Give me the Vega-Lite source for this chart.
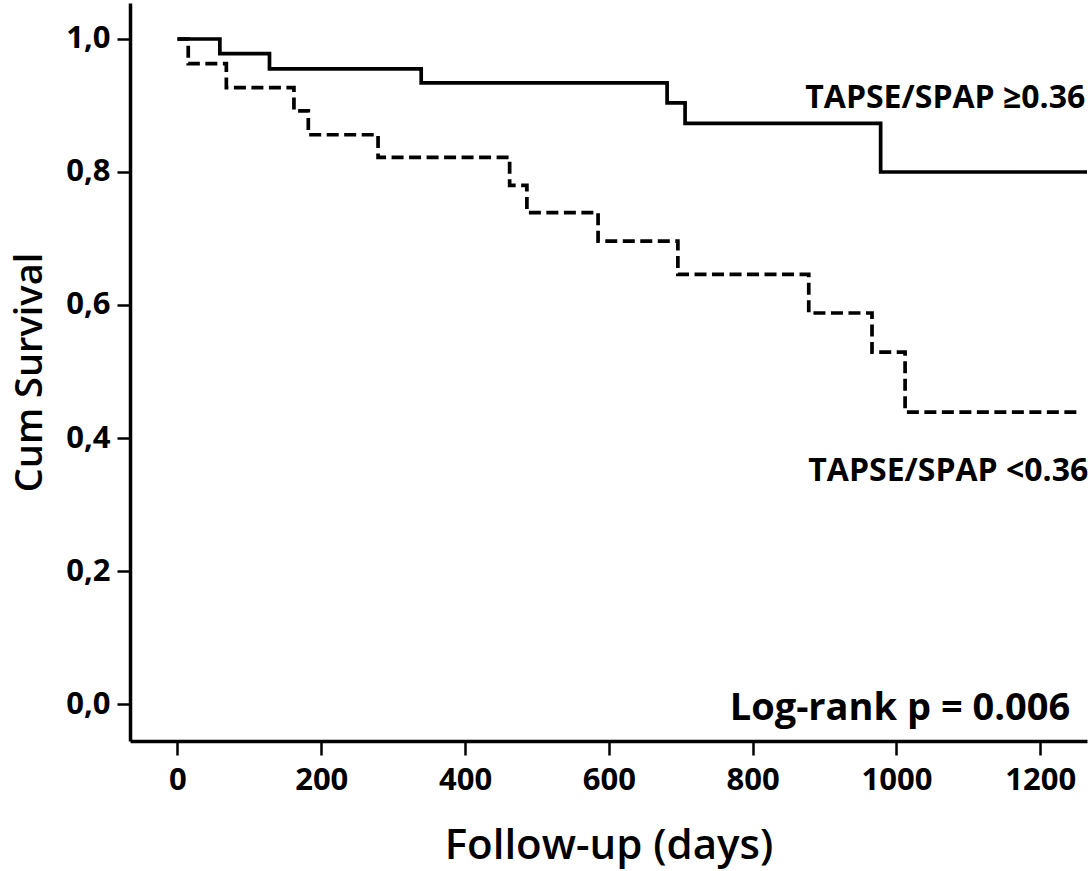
{
  "$schema": "https://vega.github.io/schema/vega-lite/v6.json",
  "width": 957,
  "height": 738,
  "autosize": "none",
  "padding": {"left": 130, "top": 3, "right": 5, "bottom": 130},
  "background": "white",
  "config": {"view": {"stroke": null}, "font": "Open Sans"},
  "datasets": {
    "curves": [
      {"group": "TAPSE/SPAP ≥0.36", "day": 0, "surv": 1.0},
      {"group": "TAPSE/SPAP ≥0.36", "day": 59, "surv": 0.978},
      {"group": "TAPSE/SPAP ≥0.36", "day": 128, "surv": 0.955},
      {"group": "TAPSE/SPAP ≥0.36", "day": 339, "surv": 0.934},
      {"group": "TAPSE/SPAP ≥0.36", "day": 681, "surv": 0.904},
      {"group": "TAPSE/SPAP ≥0.36", "day": 706, "surv": 0.873},
      {"group": "TAPSE/SPAP ≥0.36", "day": 978, "surv": 0.8},
      {"group": "TAPSE/SPAP ≥0.36", "day": 1265, "surv": 0.8},
      {"group": "TAPSE/SPAP <0.36", "day": 0, "surv": 1.0},
      {"group": "TAPSE/SPAP <0.36", "day": 15, "surv": 0.963},
      {"group": "TAPSE/SPAP <0.36", "day": 68, "surv": 0.927},
      {"group": "TAPSE/SPAP <0.36", "day": 162, "surv": 0.892},
      {"group": "TAPSE/SPAP <0.36", "day": 182, "surv": 0.856},
      {"group": "TAPSE/SPAP <0.36", "day": 279, "surv": 0.822},
      {"group": "TAPSE/SPAP <0.36", "day": 462, "surv": 0.78},
      {"group": "TAPSE/SPAP <0.36", "day": 486, "surv": 0.739},
      {"group": "TAPSE/SPAP <0.36", "day": 585, "surv": 0.696},
      {"group": "TAPSE/SPAP <0.36", "day": 696, "surv": 0.646},
      {"group": "TAPSE/SPAP <0.36", "day": 878, "surv": 0.588},
      {"group": "TAPSE/SPAP <0.36", "day": 966, "surv": 0.529},
      {"group": "TAPSE/SPAP <0.36", "day": 1012, "surv": 0.439},
      {"group": "TAPSE/SPAP <0.36", "day": 1256, "surv": 0.439}
    ],
    "grouplabels": [
      {"label": "TAPSE/SPAP ≥0.36", "day": 1262.6, "surv": 0.912},
      {"label": "TAPSE/SPAP <0.36", "day": 1266.8, "surv": 0.351}
    ],
    "stat": [
      {"label": "Log-rank p = 0.006", "day": 1241.7, "surv": -0.0075}
    ]
  },
  "layer": [
    {
      "data": {"name": "curves"},
      "mark": {"type": "line", "interpolate": "step-after", "strokeWidth": 3.7, "color": "black"},
      "encoding": {
        "x": {
          "field": "day", "type": "quantitative",
          "scale": {"domain": [-66, 1265], "nice": false, "zero": false},
          "axis": {
            "title": "Follow-up (days)",
            "values": [0, 200, 400, 600, 800, 1000, 1200],
            "format": "d",
            "grid": false,
            "domainColor": "black", "domainWidth": 3.5,
            "tickColor": "black", "tickWidth": 2.5, "tickSize": 14,
            "labelFont": "Open Sans", "labelFontWeight": "bold", "labelFontSize": 31,
            "labelColor": "black", "labelPadding": 10, "labelFlush": false,
            "titleFont": "Open Sans", "titleFontSize": 42, "titleFontWeight": 600,
            "titleColor": "black", "titlePadding": 30
          }
        },
        "y": {
          "field": "surv", "type": "quantitative",
          "scale": {"domain": [-0.0556, 1.0541], "nice": false, "zero": false},
          "axis": {
            "title": "Cum Survival",
            "values": [0, 0.2, 0.4, 0.6, 0.8, 1.0],
            "labelExpr": "replace(format(datum.value, '.1f'), '.', ',')",
            "grid": false,
            "domainColor": "black", "domainWidth": 3.5,
            "tickColor": "black", "tickWidth": 2.5, "tickSize": 13,
            "labelFont": "Open Sans", "labelFontWeight": "bold", "labelFontSize": 31,
            "labelColor": "black", "labelPadding": 7, "labelFlush": false,
            "titleFont": "Open Sans", "titleFontSize": 38, "titleFontWeight": 600,
            "titleColor": "black", "titlePadding": 16
          }
        },
        "strokeDash": {
          "field": "group", "type": "nominal",
          "scale": {"domain": ["TAPSE/SPAP ≥0.36", "TAPSE/SPAP <0.36"], "range": [[1, 0], [12, 5.5]]},
          "legend": null
        }
      }
    },
    {
      "data": {"name": "grouplabels"},
      "mark": {"type": "text", "align": "right", "baseline": "middle", "font": "Open Sans", "fontWeight": "bold", "fontSize": 32, "color": "black", "clip": false},
      "encoding": {
        "x": {"field": "day", "type": "quantitative"},
        "y": {"field": "surv", "type": "quantitative"},
        "text": {"field": "label"}
      }
    },
    {
      "data": {"name": "stat"},
      "mark": {"type": "text", "align": "right", "baseline": "middle", "font": "Open Sans", "fontWeight": "bold", "fontSize": 38, "color": "black"},
      "encoding": {
        "x": {"field": "day", "type": "quantitative"},
        "y": {"field": "surv", "type": "quantitative"},
        "text": {"field": "label"}
      }
    }
  ]
}
